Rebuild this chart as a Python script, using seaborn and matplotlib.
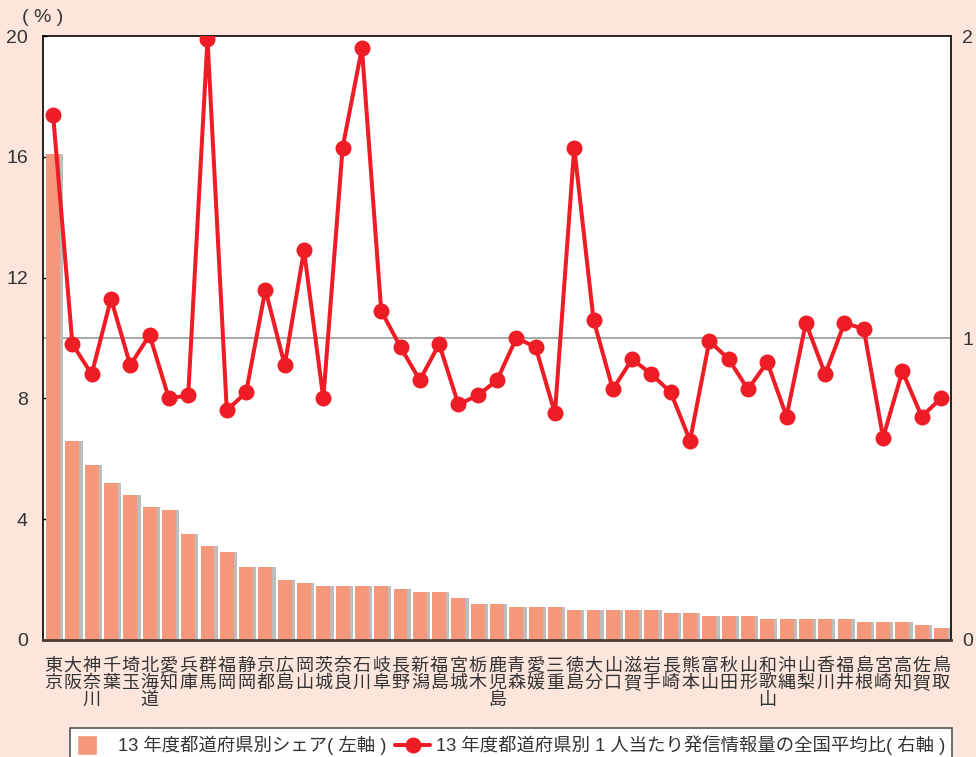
import numpy as np
import seaborn as sns
import matplotlib.pyplot as plt
from matplotlib.patches import Patch, Rectangle
from matplotlib.lines import Line2D
from matplotlib.legend_handler import HandlerPatch

prefs = ['東京', '大阪', '神奈川', '千葉', '埼玉', '北海道', '愛知', '兵庫', '群馬', '福岡',
         '静岡', '京都', '広島', '岡山', '茨城', '奈良', '石川', '岐阜', '長野', '新潟',
         '福島', '宮城', '栃木', '鹿児島', '青森', '愛媛', '三重', '徳島', '大分', '山口',
         '滋賀', '岩手', '長崎', '熊本', '富山', '秋田', '山形', '和歌山', '沖縄', '山梨',
         '香川', '福井', '島根', '宮崎', '高知', '佐賀', '鳥取']
share = [16.1, 6.6, 5.8, 5.2, 4.8, 4.4, 4.3, 3.5, 3.1, 2.9,
         2.4, 2.4, 2.0, 1.9, 1.8, 1.8, 1.8, 1.8, 1.7, 1.6,
         1.6, 1.4, 1.2, 1.2, 1.1, 1.1, 1.1, 1.0, 1.0, 1.0,
         1.0, 1.0, 0.9, 0.9, 0.8, 0.8, 0.8, 0.7, 0.7, 0.7,
         0.7, 0.7, 0.6, 0.6, 0.6, 0.5, 0.4]
ratio = [1.74, 0.98, 0.88, 1.13, 0.91, 1.01, 0.80, 0.81, 1.99, 0.76,
         0.82, 1.16, 0.91, 1.29, 0.80, 1.63, 1.96, 1.09, 0.97, 0.86,
         0.98, 0.78, 0.81, 0.86, 1.00, 0.97, 0.75, 1.63, 1.06, 0.83,
         0.93, 0.88, 0.82, 0.66, 0.99, 0.93, 0.83, 0.92, 0.74, 1.05,
         0.88, 1.05, 1.03, 0.67, 0.89, 0.74, 0.80]
left_ticks = [0, 4, 8, 12, 16, 20]
right_ticks = [0, 1, 2]
legend_labels = ['13 年度都道府県別シェア( 左軸 )',
                 '13 年度都道府県別 1 人当たり発信情報量の全国平均比( 右軸 )']

bg = '#FCE6DC'
orange = '#F4977A'
shadow = '#BDBDBD'
red = '#EE1C25'
txt = '#333333'

sns.set_style('white')
plt.rcParams['font.family'] = ['Liberation Sans', 'Noto Sans CJK JP']

labels = ['\n'.join(p) for p in prefs]
x = np.arange(len(prefs))

fig = plt.figure(figsize=(9.76, 7.57), dpi=100, facecolor=bg)
ax = fig.add_axes([0.0441, 0.1546, 0.9303, 0.7978])
ax.set_facecolor('white')

# grey shadow bars, shifted a bit to the right
sns.barplot(x=labels, y=share, ax=ax, color=shadow, saturation=1, width=0.72, linewidth=0)
for p in ax.patches:
    p.set_x(p.get_x() + 0.17)
sns.barplot(x=labels, y=share, ax=ax, color=orange, saturation=1, width=0.72, linewidth=0)
ax.axhline(10, color='#9a9a9a', lw=1.2, zorder=0.5)

ax.set_xlim(-0.52, len(prefs) - 0.48)
ax.set_ylim(0, 20)
ax.set_yticks(left_ticks)
ax.tick_params(axis='y', direction='in', length=3, width=1, colors='black',
               labelcolor=txt, labelsize=14, pad=11)
ax.tick_params(axis='x', length=0, labelsize=13, labelcolor=txt, pad=12)
for t in ax.get_xticklabels():
    t.set_linespacing(0.95)
    t.set_family(['Noto Sans CJK JP'])
ax.set_xlabel('')
ax.set_ylabel('')
for s in ['left', 'top', 'right']:
    ax.spines[s].set_color('black')
    ax.spines[s].set_linewidth(1.2)
ax.spines['bottom'].set_color('#4a3b36')
ax.spines['bottom'].set_linewidth(2)

ax2 = ax.twinx()
sns.lineplot(x=x, y=ratio, ax=ax2, color=red, lw=2.9, marker='o', ms=11.5,
             mec=red, mew=0)
ax2.set_ylim(0, 2)
ax2.set_yticks(right_ticks)
ax2.tick_params(axis='y', length=0, labelcolor=txt, labelsize=14, pad=8)
ax2.set_ylabel('')
for s in ax2.spines.values():
    s.set_visible(False)

fig.text(0.0225, 0.977, '( % )', fontsize=14, color=txt, va='center', ha='left')


def square_patch(legend, orig_handle, xdescent, ydescent, width, height, fontsize):
    side = 1.1 * fontsize
    return Rectangle((-xdescent, -ydescent + height / 2 - side / 2), side, side)


handles = [Patch(facecolor=orange),
           Line2D([], [], color=red, lw=2.9, marker='o', ms=11.5, mew=0)]
leg = fig.legend(handles, legend_labels, loc='upper left', bbox_to_anchor=(0.0717, 0.0383),
                 ncol=2, fontsize=13.2, frameon=True, fancybox=False, edgecolor='#555555',
                 facecolor='white', framealpha=1, handlelength=1.9, handletextpad=0.3,
                 columnspacing=0.5, borderpad=0.4, borderaxespad=0,
                 handler_map={Patch: HandlerPatch(patch_func=square_patch)})
leg.get_frame().set_linewidth(1.2)
for t in leg.get_texts():
    t.set_color(txt)

fig.savefig('out.png', dpi=100, facecolor=bg)
